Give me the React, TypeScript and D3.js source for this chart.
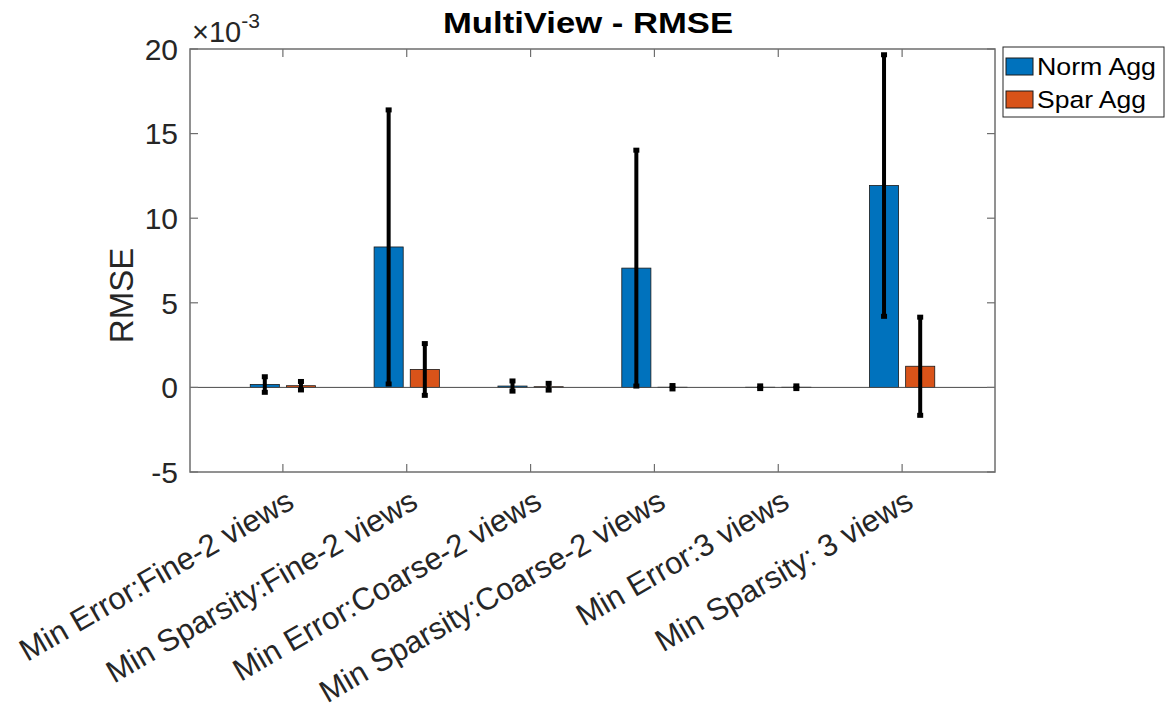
import React, {useEffect, useRef} from "react";
import * as d3 from "d3";

// values (RMSE, shown on a x10^-3 axis)
const categories = [
	"Min Error:Fine-2 views",
	"Min Sparsity:Fine-2 views",
	"Min Error:Coarse-2 views",
	"Min Sparsity:Coarse-2 views",
	"Min Error:3 views",
	"Min Sparsity: 3 views",
];
const seriesNames = ["Norm Agg", "Spar Agg"];
const seriesColors = ["#0072BD", "#D95319"];
const normAggMean = [0.17e-3, 8.3e-3, 0.08e-3, 7.05e-3, 0.01e-3, 11.93e-3];
const normAggErr = [0.46e-3, 8.1e-3, 0.3e-3, 6.97e-3, 0.08e-3, 7.73e-3];
const sparAggMean = [0.1e-3, 1.06e-3, 0.04e-3, 0.01e-3, 0.01e-3, 1.25e-3];
const sparAggErr = [0.25e-3, 1.53e-3, 0.2e-3, 0.1e-3, 0.08e-3, 2.9e-3];
const yTicks = [-5e-3, 0, 5e-3, 10e-3, 15e-3, 20e-3];

const W = 1168;
const H = 715;

const App: React.FC = () => {
	const svgRef = useRef<SVGSVGElement>(null);

	useEffect(() => {
		const svg = d3.select(svgRef.current);
		svg.selectAll("*").remove();

		const left = 190,
			right = 995,
			top = 49,
			bottom = 472;
		const font = "'Liberation Sans', Arial, Helvetica, sans-serif";
		const textColor = "#262626";
		const axisColor = "#6e6e6e";

		const x = d3.scaleLinear().domain([0.25, 6.75]).range([left, right]);
		const y = d3.scaleLinear().domain([-5e-3, 20e-3]).range([bottom, top]);

		const barW = 0.235;
		const offsets = [-0.146, 0.146];
		const means = [normAggMean, sparAggMean];
		const errs = [normAggErr, sparAggErr];

		svg.append("rect").attr("width", W).attr("height", H).attr("fill", "white");

		const g = svg.append("g");

		// bars
		means.forEach((vals, s) => {
			g.selectAll(`.bar-${s}`)
				.data(vals)
				.enter()
				.append("rect")
				.attr("x", (_, i) => x(i + 1 + offsets[s] - barW / 2))
				.attr("width", x(barW) - x(0))
				.attr("y", (d) => Math.min(y(d), y(0)))
				.attr("height", (d) => Math.abs(y(0) - y(d)))
				.attr("fill", seriesColors[s])
				.attr("stroke", "#1a1a1a")
				.attr("stroke-width", 0.8);
		});

		// baseline
		g.append("line")
			.attr("x1", left)
			.attr("x2", right)
			.attr("y1", y(0))
			.attr("y2", y(0))
			.attr("stroke", "#4a4a4a")
			.attr("stroke-width", 1);

		// error bars
		means.forEach((vals, s) => {
			vals.forEach((m, i) => {
				const cx = x(i + 1 + offsets[s]);
				const y1 = y(m + errs[s][i]);
				const y2 = y(m - errs[s][i]);
				g.append("line")
					.attr("x1", cx)
					.attr("x2", cx)
					.attr("y1", y1)
					.attr("y2", y2)
					.attr("stroke", "black")
					.attr("stroke-width", 4);
				[y1, y2].forEach((yy) => {
					g.append("rect")
						.attr("x", cx - 3)
						.attr("y", yy - 2.5)
						.attr("width", 6)
						.attr("height", 5)
						.attr("fill", "black");
				});
			});
		});

		// axes box
		svg.append("rect")
			.attr("x", left)
			.attr("y", top)
			.attr("width", right - left)
			.attr("height", bottom - top)
			.attr("fill", "none")
			.attr("stroke", axisColor)
			.attr("stroke-width", 1.5);

		const tickLen = 8;
		yTicks.forEach((t) => {
			[
				[left, left + tickLen],
				[right, right - tickLen],
			].forEach(([a, b]) => {
				svg.append("line")
					.attr("x1", a)
					.attr("x2", b)
					.attr("y1", y(t))
					.attr("y2", y(t))
					.attr("stroke", axisColor)
					.attr("stroke-width", 1.2);
			});
			svg.append("text")
				.attr("x", left - 12)
				.attr("y", y(t))
				.attr("dy", "0.36em")
				.attr("text-anchor", "end")
				.style("font-family", font)
				.style("font-size", "30px")
				.style("fill", textColor)
				.text(String(Math.round(t * 1e3)));
		});

		categories.forEach((c, i) => {
			const cx = x(i + 1);
			[
				[bottom, bottom - tickLen],
				[top, top + tickLen],
			].forEach(([a, b]) => {
				svg.append("line")
					.attr("x1", cx)
					.attr("x2", cx)
					.attr("y1", a)
					.attr("y2", b)
					.attr("stroke", axisColor)
					.attr("stroke-width", 1.2);
			});
			svg.append("text")
				.attr("transform", `translate(${cx + 2}, ${bottom + 16}) rotate(-30)`)
				.attr("y", 22)
				.attr("text-anchor", "end")
				.style("font-family", font)
				.style("font-size", "31px")
				.style("fill", textColor)
				.text(c);
		});

		// exponent label
		const ex = svg
			.append("text")
			.attr("x", left + 2)
			.attr("y", 42)
			.style("font-family", font)
			.style("font-size", "29px")
			.style("fill", textColor);
		ex.append("tspan").text("\u00d710");
		ex.append("tspan").attr("dy", -14).style("font-size", "21px").text("-3");

		// y label
		svg.append("text")
			.attr("transform", `translate(133, ${(top + bottom) / 2 + 35}) rotate(-90)`)
			.attr("text-anchor", "middle")
			.style("font-family", font)
			.style("font-size", "33px")
			.style("fill", textColor)
			.text("RMSE");

		// title
		svg.append("text")
			.attr("x", 443)
			.attr("y", 33)
			.attr("textLength", 290)
			.attr("lengthAdjust", "spacingAndGlyphs")
			.style("font-family", font)
			.style("font-size", "29px")
			.style("font-weight", "bold")
			.style("fill", "black")
			.text("MultiView - RMSE");

		// legend
		const legend = svg.append("g");
		legend
			.append("rect")
			.attr("x", 1003)
			.attr("y", 47)
			.attr("width", 161)
			.attr("height", 70)
			.attr("fill", "white")
			.attr("stroke", "#262626")
			.attr("stroke-width", 1);
		const legendWidths = [119, 109];
		seriesNames.forEach((name, i) => {
			const yy = 58 + i * 33;
			legend
				.append("rect")
				.attr("x", 1006)
				.attr("y", yy)
				.attr("width", 27)
				.attr("height", 17)
				.attr("fill", seriesColors[i])
				.attr("stroke", "#1a1a1a")
				.attr("stroke-width", 1);
			legend
				.append("text")
				.attr("x", 1037)
				.attr("y", yy + 17)
				.attr("textLength", legendWidths[i])
				.attr("lengthAdjust", "spacingAndGlyphs")
				.style("font-family", font)
				.style("font-size", "24.5px")
				.style("fill", "black")
				.text(name);
		});
	}, []);

	return (
		<svg
			ref={svgRef}
			width={W}
			height={H}
			style={{position: "absolute", left: 0, top: 0}}
		/>
	);
};

export default App;
